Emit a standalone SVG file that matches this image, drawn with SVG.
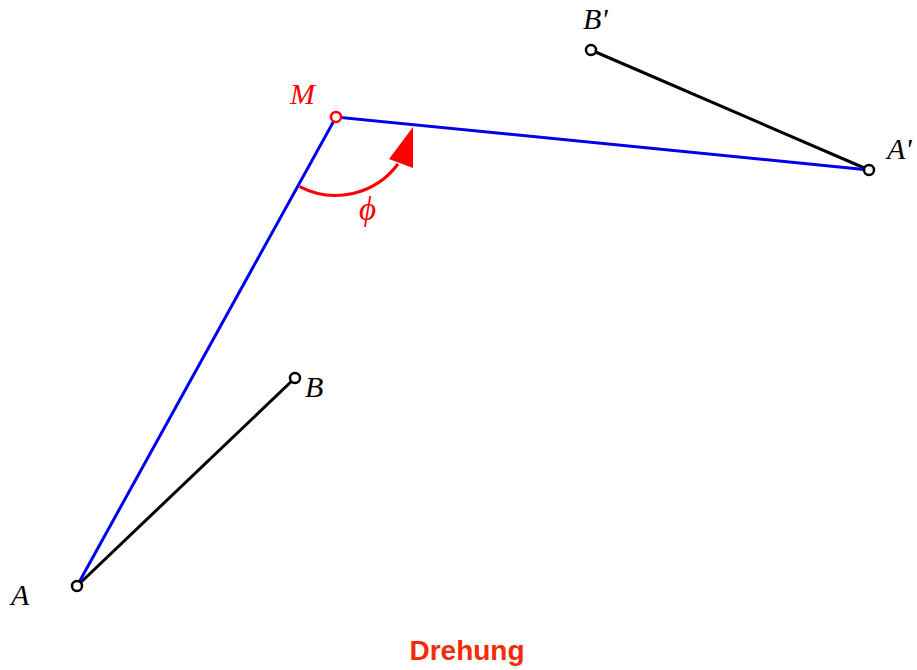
<svg xmlns="http://www.w3.org/2000/svg" width="917" height="670" viewBox="0 0 917 670">
<style>
.lbl{font-family:"Liberation Serif",serif;font-style:italic;font-size:30px}
.blk{stroke:#000;stroke-width:3;fill:none}
.blu{stroke:#0000ee;stroke-width:3;fill:none}
.pt{fill:#fff;stroke:#000;stroke-width:2.5}
</style>
<rect width="917" height="670" fill="#fff"/>
<g id="connectors">
<line class="blk" x1="77" y1="586" x2="295" y2="378"/>
<line class="blk" x1="591" y1="50" x2="869" y2="170"/>
<polyline class="blu" points="77,586 336,117 869,170"/>
<path d="M 299.6,186.7 A 78 78 0 0 0 398,164" fill="none" stroke="#f00" stroke-width="3"/>
<polygon points="413,127 389,159 413,168" fill="#f00"/>
</g>
<g id="A"><circle class="pt" cx="77" cy="586" r="5"/><text class="lbl" x="11" y="605">A</text></g>
<g id="B"><circle class="pt" cx="295" cy="378" r="5"/><text class="lbl" x="305" y="397">B</text></g>
<g id="Bp"><circle class="pt" cx="591" cy="50" r="5"/><text class="lbl" x="583" y="29">B'</text></g>
<g id="Ap"><circle class="pt" cx="869" cy="170" r="5"/><text class="lbl" x="887" y="159">A'</text></g>
<g id="M"><circle cx="336" cy="117" r="5" fill="#fff" stroke="#f00" stroke-width="2.5"/><text class="lbl" x="290" y="104" fill="#f00">M</text></g>
<g id="phi"><text class="lbl" x="359" y="220" fill="#f00" style="font-size:33px">ϕ</text></g>
<g id="title"><text x="467" y="660" text-anchor="middle" font-family="Liberation Sans,Arial,sans-serif" font-weight="bold" font-size="28" fill="#f52a0a">Drehung</text></g>
</svg>
